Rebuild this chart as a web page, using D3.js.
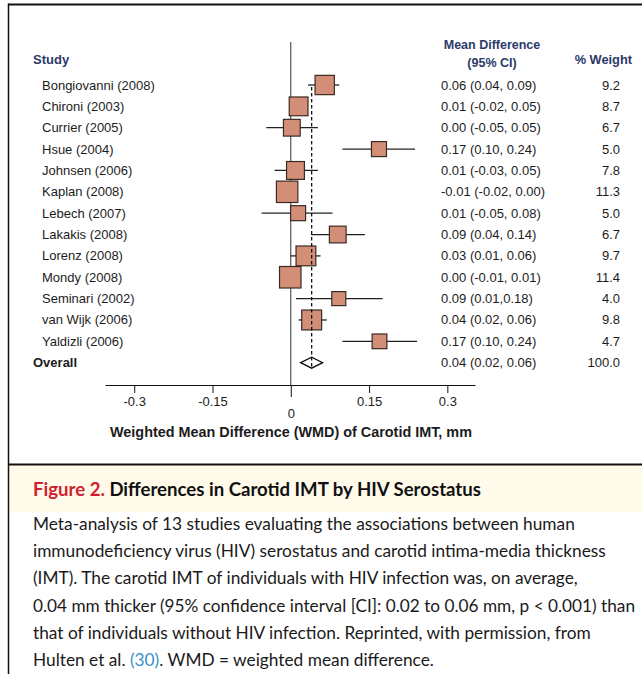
<!DOCTYPE html>
<html>
<head>
<meta charset="utf-8">
<script src="https://cdn.jsdelivr.net/npm/d3@7/dist/d3.min.js"></script>
<style>
  html, body { margin: 0; padding: 0; background: #fff; }
  svg { display: block; }
</style>
</head>
<body>
<svg id="chart" width="642" height="674"></svg>
<script>
// ---------- DATA ----------
const studies = ["Bongiovanni (2008)", "Chironi (2003)", "Currier (2005)", "Hsue (2004)", "Johnsen (2006)",
  "Kaplan (2008)", "Lebech (2007)", "Lakakis (2008)", "Lorenz (2008)", "Mondy (2008)",
  "Seminari (2002)", "van Wijk (2006)", "Yaldizli (2006)"];
// point estimates and CI ends as drawn in the picture
const estimates = [0.065, 0.015, 0.002, 0.169, 0.009, -0.007, 0.014, 0.090, 0.029, -0.001, 0.092, 0.040, 0.170];
const lowers    = [0.033, 0.000, -0.047, 0.099, -0.031, -0.020, -0.056, 0.039, -0.001, -0.010, 0.010, 0.015, 0.099];
const uppers    = [0.093, 0.030, 0.052, 0.238, 0.052, 0.000, 0.080, 0.142, 0.057, 0.010, 0.176, 0.069, 0.242];
const weights   = [9.2, 8.7, 6.7, 5.0, 7.8, 11.3, 5.0, 6.7, 9.7, 11.4, 4.0, 9.8, 4.7];
const ciLabels  = ["0.06 (0.04, 0.09)", "0.01 (-0.02, 0.05)", "0.00 (-0.05, 0.05)", "0.17 (0.10, 0.24)",
  "0.01 (-0.03, 0.05)", "-0.01 (-0.02, 0.00)", "0.01 (-0.05, 0.08)", "0.09 (0.04, 0.14)",
  "0.03 (0.01, 0.06)", "0.00 (-0.01, 0.01)", "0.09 (0.01,0.18)", "0.04 (0.02, 0.06)", "0.17 (0.10, 0.24)"];
const weightLabels = ["9.2", "8.7", "6.7", "5.0", "7.8", "11.3", "5.0", "6.7", "9.7", "11.4", "4.0", "9.8", "4.7"];
const overall = { label: "Overall", est: 0.04, lo: 0.019, hi: 0.061, ci: "0.04 (0.02, 0.06)", weight: "100.0" };
const tickValues = [-0.3, -0.15, 0, 0.15, 0.3];
const tickLabels = ["-0.3", "-0.15", "0", "0.15", "0.3"];
const axisTitle = "Weighted Mean Difference (WMD) of Carotid IMT, mm";
const captionTitleRed = "Figure 2.";
const captionTitle = "Differences in Carotid IMT by HIV Serostatus";
const captionLines = [
  "Meta-analysis of 13 studies evaluating the associations between human",
  "immunodeficiency virus (HIV) serostatus and carotid intima-media thickness",
  "(IMT). The carotid IMT of individuals with HIV infection was, on average,",
  "0.04 mm thicker (95% confidence interval [CI]: 0.02 to 0.06 mm, p < 0.001) than",
  "that of individuals without HIV infection. Reprinted, with permission, from"
];
const lastLineParts = ["Hulten et al. ", "(30)", ". WMD = weighted mean difference."];

// ---------- SETUP ----------
const svg = d3.select("#chart");
const sans = "'Liberation Sans', Arial, Helvetica, sans-serif";
const navy = "#2c3a6a";
const ink = "#1c1c1c";

const x = d3.scaleLinear().domain([-0.356, 0.353]).range([105, 475]);
const rows = studies.concat([overall.label]);
const y = d3.scalePoint().domain(rows).range([85, 362.7]);
const size = d3.scaleLinear().domain([4, 11.4]).range([14, 21.5]);
const axisY = 385;

// frame
svg.append("rect").attr("x", 9).attr("y", 465).attr("width", 633).attr("height", 47).attr("fill", "#fffaea");
svg.append("line").attr("x1", 8.5).attr("x2", 8.5).attr("y1", 3.5).attr("y2", 674).attr("stroke", "#111").attr("stroke-width", 1.5);
svg.append("line").attr("x1", 8).attr("x2", 642).attr("y1", 4.5).attr("y2", 4.5).attr("stroke", "#111").attr("stroke-width", 2);
svg.append("line").attr("x1", 8).attr("x2", 642).attr("y1", 464.5).attr("y2", 464.5).attr("stroke", "#111").attr("stroke-width", 2);

// headers
svg.append("text").attr("x", 33).attr("y", 64).attr("font-family", sans).attr("font-weight", "bold")
  .attr("font-size", 13).attr("fill", navy).text("Study");
svg.append("text").attr("x", 492).attr("y", 49).attr("text-anchor", "middle").attr("font-family", sans)
  .attr("font-weight", "bold").attr("font-size", 12.5).attr("fill", navy).text("Mean Difference");
svg.append("text").attr("x", 492).attr("y", 67).attr("text-anchor", "middle").attr("font-family", sans)
  .attr("font-weight", "bold").attr("font-size", 12.5).attr("fill", navy).text("(95% CI)");
svg.append("text").attr("x", 632).attr("y", 64).attr("text-anchor", "end").attr("font-family", sans)
  .attr("font-weight", "bold").attr("font-size", 12.8).attr("fill", navy).text("% Weight");

// zero line
svg.append("line").attr("x1", x(0)).attr("x2", x(0)).attr("y1", 42).attr("y2", axisY)
  .attr("stroke", "#333").attr("stroke-width", 1);

// study rows
const data = studies.map((s, i) => ({ s, est: estimates[i], lo: lowers[i], hi: uppers[i], w: weights[i], ci: ciLabels[i], wl: weightLabels[i] }));
const g = svg.append("g");
g.selectAll("line.ci").data(data).join("line").attr("class", "ci")
  .attr("x1", d => x(d.lo)).attr("x2", d => x(d.hi)).attr("y1", d => y(d.s)).attr("y2", d => y(d.s))
  .attr("stroke", "#222").attr("stroke-width", 1.3);
g.selectAll("rect.box").data(data).join("rect").attr("class", "box")
  .attr("x", d => x(d.est) - size(d.w) / 2).attr("y", d => y(d.s) - size(d.w) / 2)
  .attr("width", d => size(d.w)).attr("height", d => size(d.w))
  .attr("fill", "#d38e78").attr("stroke", "#3b2a24").attr("stroke-width", 1.2);
g.selectAll("text.name").data(data).join("text").attr("class", "name")
  .attr("x", 42).attr("y", d => y(d.s) + 4.5).attr("font-family", sans).attr("font-size", 13).attr("fill", ink).text(d => d.s);
g.selectAll("text.ci").data(data).join("text").attr("class", "ci")
  .attr("x", 441).attr("y", d => y(d.s) + 4.5).attr("font-family", sans).attr("font-size", 13).attr("fill", ink).text(d => d.ci);
g.selectAll("text.wt").data(data).join("text").attr("class", "wt")
  .attr("x", 620).attr("y", d => y(d.s) + 4.5).attr("text-anchor", "end").attr("font-family", sans).attr("font-size", 13).attr("fill", ink).text(d => d.wl);

// overall
const oy = y(overall.label);
svg.append("path")
  .attr("d", `M${x(overall.lo)},${oy} L${x(overall.est)},${oy - 5.5} L${x(overall.hi)},${oy} L${x(overall.est)},${oy + 5.5} Z`)
  .attr("fill", "#fff").attr("stroke", "#111").attr("stroke-width", 1.3);
svg.append("line").attr("x1", x(overall.est)).attr("x2", x(overall.est)).attr("y1", y(studies[0]) + 2).attr("y2", oy + 5)
  .attr("stroke", "#111").attr("stroke-width", 1.3).attr("stroke-dasharray", "3.5,2.5");
svg.append("text").attr("x", 33).attr("y", oy + 4.5).attr("font-family", sans).attr("font-weight", "bold")
  .attr("font-size", 13).attr("fill", ink).text(overall.label);
svg.append("text").attr("x", 441).attr("y", oy + 4.5).attr("font-family", sans).attr("font-size", 13).attr("fill", ink).text(overall.ci);
svg.append("text").attr("x", 620).attr("y", oy + 4.5).attr("text-anchor", "end").attr("font-family", sans).attr("font-size", 13).attr("fill", ink).text(overall.weight);

// axis
const axis = d3.axisBottom(x).tickValues(tickValues).tickFormat((d, i) => tickLabels[i]).tickSize(8).tickSizeOuter(0).tickPadding(4);
const ag = svg.append("g").attr("transform", `translate(0,${axisY})`).call(axis);
ag.select(".domain").attr("stroke", "#111");
ag.selectAll(".tick line").attr("stroke", "#111");
ag.selectAll(".tick text").attr("font-family", sans).attr("font-size", 13).attr("fill", ink);
ag.selectAll(".tick text").filter(d => d === 0).attr("dy", "1.65em");
ag.selectAll(".tick").filter(d => d === 0).select("line").attr("y2", 12);
svg.append("text").attr("x", 291).attr("y", 437).attr("text-anchor", "middle").attr("font-family", sans)
  .attr("font-weight", "bold").attr("font-size", 14.4).attr("fill", ink).text(axisTitle);

// caption
const capFont = "Lato, 'Open Sans', 'Noto Sans', sans-serif";
const ct = svg.append("text").attr("x", 33).attr("y", 495.5).attr("font-family", capFont).attr("font-weight", "bold").attr("font-size", 18.6);
ct.append("tspan").attr("fill", "#d0202f").text(captionTitleRed + " ");
ct.append("tspan").attr("fill", "#111").text(captionTitle);

captionLines.forEach((t, i) => {
  const tx = svg.append("text").attr("x", 33).attr("y", 530 + i * 27.2).attr("font-family", capFont).attr("font-size", 17.3)
    .attr("fill", "#1a1a1a").text(t);
  if (i === 3) tx.attr("textLength", 602).attr("lengthAdjust", "spacingAndGlyphs");
});
const ll = svg.append("text").attr("x", 33).attr("y", 530 + 5 * 27.2).attr("font-family", capFont).attr("font-size", 17.3).attr("fill", "#1a1a1a");
ll.append("tspan").text(lastLineParts[0]);
ll.append("tspan").attr("fill", "#3a8fc8").text(lastLineParts[1]);
ll.append("tspan").text(lastLineParts[2]);
</script>
</body>
</html>
